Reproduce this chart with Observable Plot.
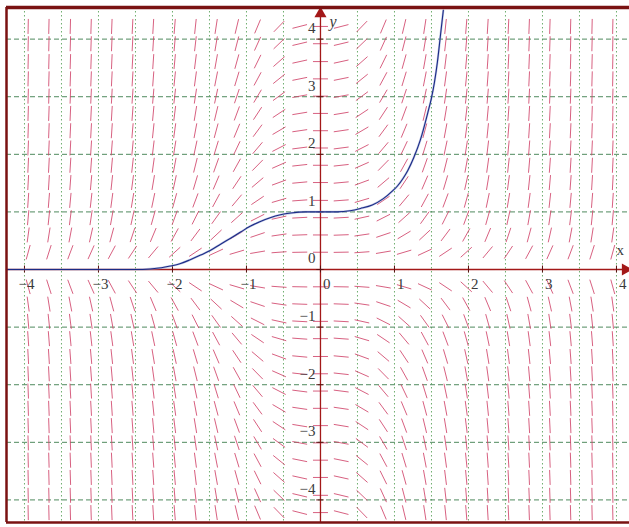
<!DOCTYPE html>
<html>
<head>
<meta charset="utf-8">
<script src="https://cdn.jsdelivr.net/npm/d3@7"></script>
<script src="https://cdn.jsdelivr.net/npm/@observablehq/plot@0.6"></script>
<style>
  html, body { margin: 0; padding: 0; background: #fff; }
  #chart svg { display: block; }
</style>
</head>
<body>
<div id="chart"></div>
<script>
// Direction field grid
const fieldX = [-3.95, -3.67, -3.38, -3.10, -2.82, -2.54, -2.26, -1.97, -1.69, -1.41, -1.13, -0.85, -0.56, -0.28, 0,
                0.28, 0.56, 0.85, 1.13, 1.41, 1.69, 1.97, 2.26, 2.54, 2.82, 3.10, 3.38, 3.67, 3.95];
const fieldY = [4.22, 3.92, 3.61, 3.31, 3.01, 2.71, 2.41, 2.11, 1.81, 1.51, 1.20, 0.90, 0.60, 0.30, 0,
                -0.30, -0.60, -0.90, -1.20, -1.51, -1.81, -2.11, -2.41, -2.71, -3.01, -3.31, -3.61, -3.92, -4.22];
// The differential equation drawn by the field: dy/dx = x^2 * y
const slope = (x, y) => x * x * y;

// Solution curve
const curveX = [-4.24, -2.5, -2.3, -2.15, -2.03, -1.9, -1.76, -1.62, -1.49, -1.35, -1.22, -1.08, -0.95, -0.82, -0.68,
                -0.54, -0.4, -0.2, 0, 0.23, 0.4, 0.54, 0.7, 0.85, 0.97, 1.04, 1.12, 1.18, 1.26, 1.35, 1.45, 1.5,
                1.54, 1.58, 1.62, 1.66];
const curveY = [0, 0, 0.01, 0.03, 0.06, 0.1, 0.17, 0.25, 0.33, 0.44, 0.54, 0.65, 0.75, 0.83, 0.9,
                0.95, 0.98, 1.0, 1.0, 1.0, 1.02, 1.06, 1.12, 1.23, 1.36, 1.45, 1.59, 1.72, 1.94, 2.25, 2.72, 2.98,
                3.25, 3.6, 4.05, 4.5];

// Grid lines and tick labels
const gridX = [-4, -3.5, -3, -2.5, -2, -1.5, -1, -0.5, 0, 0.5, 1, 1.5, 2, 2.5, 3, 3.5, 4];
const gridY = [-4, -3, -2, -1, 1, 2, 3, 4];
const tickValues = [-4, -3, -2, -1, 0, 1, 2, 3, 4];
const tickLabels = ["\u22124", "\u22123", "\u22122", "\u22121", "0", "1", "2", "3", "4"];

const W = 629, H = 527, mL = 6, mR = 0, mT = 7, mB = 5;
const xDomain = [-4.243, 4.176];
const yDomain = [-4.392, 4.549];
const kx = (W - mL - mR) / (xDomain[1] - xDomain[0]);
const ky = (H - mT - mB) / (yDomain[1] - yDomain[0]);
const half = 7.5; // half segment length in px

const segs = [];
for (const x of fieldX) {
  for (const y of fieldY) {
    const s = slope(x, y);
    const px = kx, py = ky * s;
    const len = Math.hypot(px, py);
    const ux = (px / len) * half / kx;
    const uy = (py / len) * half / ky;
    segs.push({x1: x - ux, y1: y - uy, x2: x + ux, y2: y + uy});
  }
}
const curve = curveX.map((x, i) => ({x, y: curveY[i]}));
const ticks = tickValues.map((v, i) => ({v, label: tickLabels[i]}));

const axisRed = "#a31818";
const frameRed = "#7a1212";
const font = "Liberation Serif, Times New Roman, serif";

const chart = Plot.plot({
  width: W, height: H,
  marginLeft: mL, marginRight: mR, marginTop: mT, marginBottom: mB,
  x: {domain: xDomain, axis: null},
  y: {domain: yDomain, axis: null},
  style: {background: "#fff", fontFamily: font},
  marks: [
    Plot.ruleX(gridX, {stroke: "#6fae6f", strokeWidth: 1, strokeDasharray: "1.5,2.5"}),
    Plot.ruleY(gridY, {stroke: "#4f8a5e", strokeWidth: 1, strokeDasharray: "5,3"}),
    Plot.link(segs, {x1: "x1", y1: "y1", x2: "x2", y2: "y2", stroke: "#d0446a", strokeWidth: 1, strokeOpacity: 0.85}),
    Plot.ruleY([0], {stroke: axisRed, strokeWidth: 1.6}),
    Plot.ruleX([0], {stroke: axisRed, strokeWidth: 1.3}),
    Plot.ruleX(tickValues, {x: d => d, y1: -0.06, y2: 0.06, stroke: "#5a1010", strokeWidth: 1}),
    Plot.ruleY(tickValues, {y: d => d, x1: -0.05, x2: 0.05, stroke: "#5a1010", strokeWidth: 1}),
    Plot.line(curve, {x: "x", y: "y", curve: "monotone-x", stroke: "#9aa6d4", strokeWidth: 2.2, strokeOpacity: 0.6}),
    Plot.line(curve, {x: "x", y: "y", curve: "monotone-x", stroke: "#1b2a86", strokeWidth: 1.1}),
    Plot.dot([{x: 0, y: 4.44}], {x: "x", y: "y", symbol: "triangle", r: 4.5, fill: axisRed, stroke: "none"}),
    Plot.dot([{x: 4.12, y: 0}], {x: "x", y: "y", symbol: "triangle", r: 4.5, rotate: 90, fill: axisRed, stroke: "none"}),
    Plot.text(ticks, {x: "v", y: 0, text: "label", textAnchor: "end", dx: 10, dy: 15, fontSize: 15, fill: "#3a3a3a", fontFamily: font}),
    Plot.text(ticks, {x: 0, y: "v", text: "label", textAnchor: "end", dx: -5, dy: -11, fontSize: 15, fill: "#3a3a3a", fontFamily: font}),
    Plot.text(["x"], {x: 4.05, y: 0, text: d => d, dy: -19, fontSize: 15, fill: "#3a3a3a", fontFamily: font}),
    Plot.text(["y"], {x: 0.17, y: 4.3, text: d => d, fontSize: 16, fontStyle: "italic", fill: "#3a3a3a", fontFamily: font}),
    Plot.ruleY([yDomain[1]], {stroke: frameRed, strokeWidth: 3.5}),
    Plot.ruleY([yDomain[0]], {stroke: frameRed, strokeWidth: 2.5}),
    Plot.ruleX([xDomain[0]], {stroke: frameRed, strokeWidth: 2.5})
  ]
});
document.getElementById("chart").appendChild(chart);
</script>
</body>
</html>
